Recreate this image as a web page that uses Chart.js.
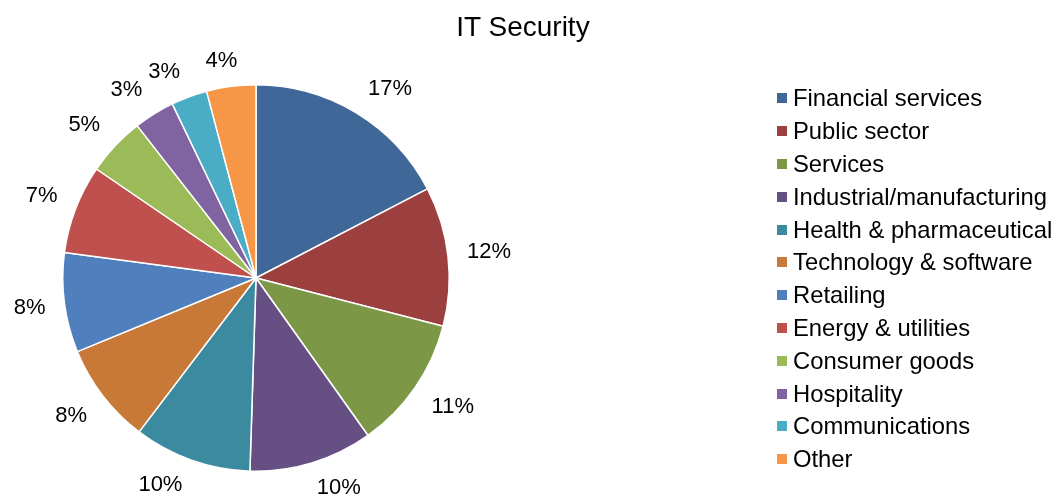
<!DOCTYPE html>
<html>
<head>
<meta charset="utf-8">
<script src="https://cdn.jsdelivr.net/npm/chart.js@4/dist/chart.umd.min.js"></script>
<style>
  html, body { margin: 0; padding: 0; background: #fff; }
  #wrap { position: relative; width: 1057px; height: 499px; overflow: hidden; font-family: "Liberation Sans", Arial, sans-serif; }
  #chart { position: absolute; left: 0; top: 0; }
  #title { position: absolute; left: 0; top: 10px; width: 1046px; text-align: center; font-size: 28px; line-height: 34px; color: #000; }
  #legend { position: absolute; left: 777px; top: 82px; }
  .row { height: 32.8px; display: flex; align-items: center; font-size: 23.8px; color: #000; white-space: nowrap; }
  .sw { width: 10px; height: 10px; margin-right: 6px; flex: none; }
</style>
</head>
<body>
<div id="wrap">
  <canvas id="chart" width="1057" height="499"></canvas>
  <div id="title"></div>
  <div id="legend"></div>
</div>
<script>
const chartTitle = "IT Security";
const categories = [
  "Financial services", "Public sector", "Services", "Industrial/manufacturing",
  "Health & pharmaceutical", "Technology & software", "Retailing", "Energy & utilities",
  "Consumer goods", "Hospitality", "Communications", "Other"
];
const shares = [17.3, 11.6, 11.1, 10.3, 9.8, 8.4, 8.3, 7.4, 4.9, 3.4, 3.0, 4.1];
const colors = [
  "#3f6797", "#9b403e", "#7c9847", "#665083", "#3c8a9f", "#c97937",
  "#4f80bd", "#c0504d", "#9bbb59", "#8064a2", "#4bacc6", "#f79646"
];

document.getElementById('title').textContent = chartTitle;
const legend = document.getElementById('legend');
categories.forEach((c, i) => {
  const row = document.createElement('div');
  row.className = 'row';
  const sw = document.createElement('span');
  sw.className = 'sw';
  sw.style.background = colors[i];
  const t = document.createElement('span');
  t.textContent = c;
  row.appendChild(sw); row.appendChild(t);
  legend.appendChild(row);
});

const clamp = v => Math.max(-1, Math.min(1, v));
const outsideLabels = {
  id: 'outsideLabels',
  afterDatasetsDraw(chart) {
    const ctx = chart.ctx;
    const meta = chart.getDatasetMeta(0);
    const data = chart.data.datasets[0].data;
    const total = data.reduce((a, b) => a + b, 0);
    ctx.save();
    ctx.font = '22px "Liberation Sans", Arial, sans-serif';
    ctx.fillStyle = '#000';
    ctx.textAlign = 'center';
    ctx.textBaseline = 'middle';
    const h = 22;
    meta.data.forEach((arc, i) => {
      const p = arc.getProps(['x', 'y', 'startAngle', 'endAngle', 'outerRadius'], true);
      const mid = (p.startAngle + p.endAngle) / 2;
      const c = Math.cos(mid), s = Math.sin(mid);
      const r = p.outerRadius + 15;
      const txt = Math.round(data[i] / total * 100) + '%';
      const w = ctx.measureText(txt).width;
      const x = p.x + c * r + (w / 2 + 4) * clamp(3 * c);
      const y = p.y + s * r + (h / 2) * clamp(2 * s);
      ctx.fillText(txt, x, y);
    });
    ctx.restore();
  }
};

new Chart(document.getElementById('chart'), {
  type: 'pie',
  data: {
    labels: categories,
    datasets: [{
      data: shares,
      backgroundColor: colors,
      borderColor: '#ffffff',
      borderWidth: 1.5,
      hoverBorderWidth: 1.5,
      hoverOffset: 0
    }]
  },
  options: {
    responsive: false,
    animation: false,
    events: [],
    layout: { padding: { left: 62, top: 84, right: 607, bottom: 27 } },
    plugins: {
      legend: { display: false },
      title: { display: false },
      tooltip: { enabled: false }
    }
  },
  plugins: [outsideLabels]
});
</script>
</body>
</html>
